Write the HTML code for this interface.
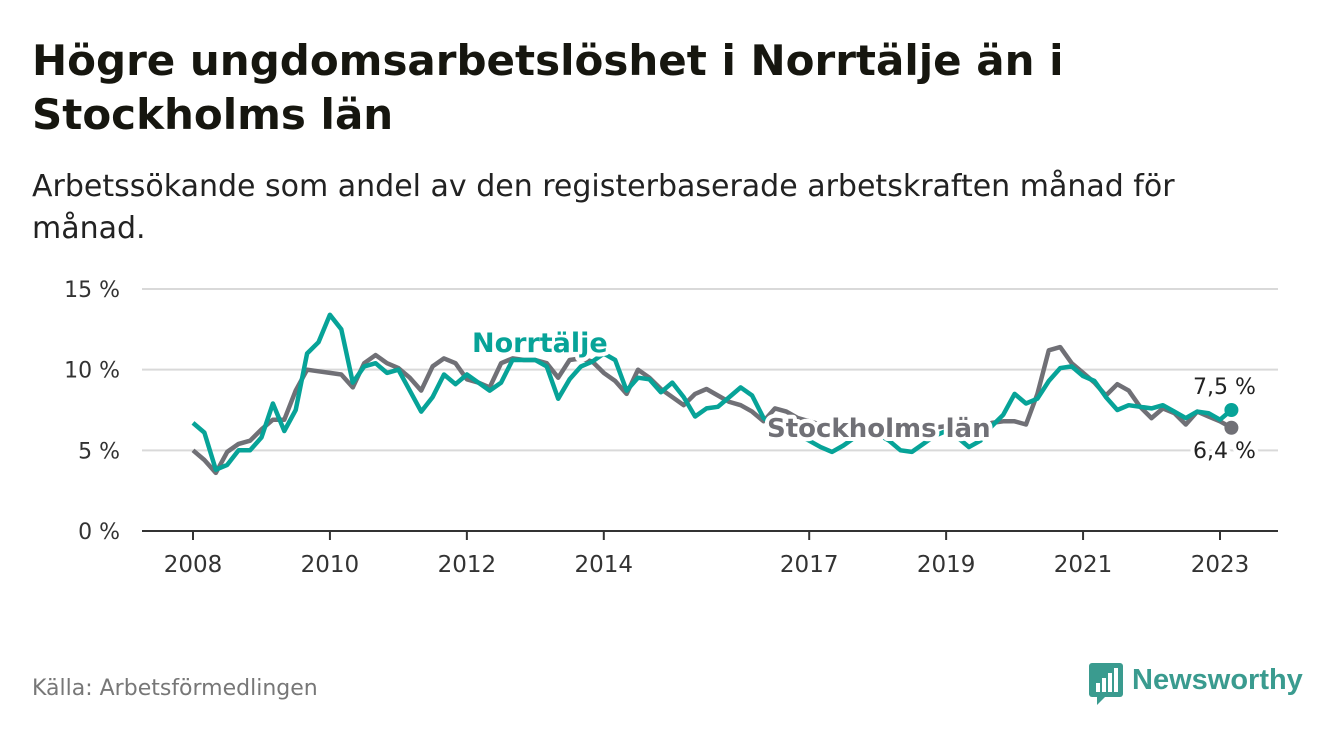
<!DOCTYPE html>
<html><head><meta charset="utf-8">
<style>
body{margin:0;background:#fff;width:1340px;height:734px;overflow:hidden;font-family:"DejaVu Sans",sans-serif;}
.t{position:absolute;left:32px;top:34px;font-size:42px;font-weight:bold;color:#16160f;line-height:54px;width:1300px}
.s{position:absolute;left:32px;top:166px;font-size:30px;color:#222;line-height:42px;width:1300px}
.src{position:absolute;left:32px;top:676px;font-size:22px;color:#777}
</style></head><body>
<div class="t">Högre ungdomsarbetslöshet i Norrtälje än i<br>Stockholms län</div>
<div class="s">Arbetssökande som andel av den registerbaserade arbetskraften månad för<br>månad.</div>
<div class="src">Källa: Arbetsförmedlingen</div>
<div style="position:absolute;left:1089px;top:661px;">
<svg width="220" height="46"><rect x="0" y="2" width="34" height="34" rx="3" fill="#3a9b8f"/><path d="M8 36 L8 44 L16 36Z" fill="#3a9b8f"/>
<rect x="7" y="22" width="4" height="9" fill="#fff"/><rect x="13" y="17" width="4" height="14" fill="#fff"/><rect x="19" y="12" width="4" height="19" fill="#fff"/><rect x="25" y="7" width="4" height="24" fill="#fff"/>
<text x="43" y="28" font-size="29" font-weight="bold" fill="#3a9b8f" font-family="Liberation Sans, sans-serif">Newsworthy</text></svg></div>
<svg id="ch" width="1340" height="734" style="position:absolute;left:0;top:0;font-family:'DejaVu Sans',sans-serif"></svg>
<script>
const years=[2008,2010,2012,2014,2017,2019,2021,2023];
const yTicks=[0,5,10,15];
const norrtalje=[6.7,6.1,3.8,4.1,5.0,5.0,5.8,7.9,6.2,7.5,11.0,11.7,13.4,12.5,9.2,10.2,10.4,9.8,10.0,8.7,7.4,8.3,9.7,9.1,9.7,9.2,8.7,9.2,10.6,10.6,10.6,10.2,8.2,9.4,10.2,10.5,11.0,10.6,8.7,9.5,9.4,8.6,9.2,8.3,7.1,7.6,7.7,8.3,8.9,8.4,7.0,6.5,6.3,6.0,5.6,5.2,4.9,5.3,5.8,6.2,6.0,5.6,5.0,4.9,5.4,5.9,6.2,5.8,5.2,5.6,6.5,7.2,8.5,7.9,8.2,9.3,10.1,10.2,9.6,9.3,8.3,7.5,7.8,7.7,7.6,7.8,7.4,7.0,7.4,7.3,6.9,7.5];
const stockholm=[5.0,4.4,3.6,4.9,5.4,5.6,6.3,6.9,6.9,8.7,10.0,9.9,9.8,9.7,8.9,10.4,10.9,10.4,10.1,9.5,8.7,10.2,10.7,10.4,9.4,9.2,8.9,10.4,10.7,10.6,10.6,10.4,9.5,10.6,10.7,10.5,9.8,9.3,8.5,10.0,9.5,8.8,8.3,7.8,8.5,8.8,8.4,8.0,7.8,7.4,6.8,7.6,7.4,7.0,6.8,6.6,6.4,6.3,6.3,6.4,6.3,6.2,6.2,6.2,6.3,6.4,6.5,6.4,6.3,6.5,6.7,6.8,6.8,6.6,8.5,11.2,11.4,10.4,9.8,9.2,8.4,9.1,8.7,7.7,7.0,7.6,7.3,6.6,7.4,7.1,6.8,6.4];
const startYear=2008, step=1/6;
const X=y=>193+(y-2008)*(1220-193)/15;
const Y=v=>531-v*(531-289)/15;
const svg=document.getElementById('ch');
const NS='http://www.w3.org/2000/svg';
function mk(tag,attrs){const e=document.createElementNS(NS,tag);for(const k in attrs)e.setAttribute(k,attrs[k]);svg.appendChild(e);return e;}
yTicks.forEach(v=>{
 const l=mk('line',{x1:142,x2:1278,y1:Y(v),y2:Y(v),stroke:v===0?'#333':'#d9d9d9','stroke-width':2});
 
 
 const t=mk('text',{x:120,y:Y(v)+8,'text-anchor':'end','font-size':22,fill:'#333'});
 t.textContent=v+' %';
 
 
});
years.forEach(yr=>{
 const l=mk('line',{x1:X(yr),x2:X(yr),y1:531,y2:540,stroke:'#333','stroke-width':2});
 
 
 const t=mk('text',{x:X(yr),y:572,'text-anchor':'middle','font-size':23,fill:'#333'});
 t.textContent=yr;
 
 
});
function line(arr,color,name){
 const d=arr.map((v,i)=>(i?'L':'M')+X(startYear+i*step).toFixed(1)+' '+Y(v).toFixed(1)).join(' ');
 const p=mk('path',{d:d,fill:'none',stroke:color,'stroke-width':4.5,'stroke-linejoin':'round'});
 
 
 const n=arr.length-1;
 const c=mk('circle',{cx:X(startYear+n*step),cy:Y(arr[n]),r:7,fill:color});
 
 
}
line(stockholm,'#707076','stockholm-line');
line(norrtalje,'#07a398','norrtalje-line');
function lab(txt,x,y,color,size,bold,name){
 const t=mk('text',{x:x,y:y,'font-size':size,'font-weight':bold?'bold':'normal',fill:color,stroke:'#fff','stroke-width':8,'paint-order':'stroke','stroke-linejoin':'round'});
 t.textContent=txt;
 
 
}
lab('Norrtälje',472,352,'#07a398',27,true,'norrtalje-label');
lab('Stockholms län',767,437,'#707076',26,true,'stockholm-label');
lab('7,5 %',1193,394,'#222',22,false,'norrtalje-end-value');
lab('6,4 %',1193,458,'#222',22,false,'stockholm-end-value');
</script>
</body></html>
